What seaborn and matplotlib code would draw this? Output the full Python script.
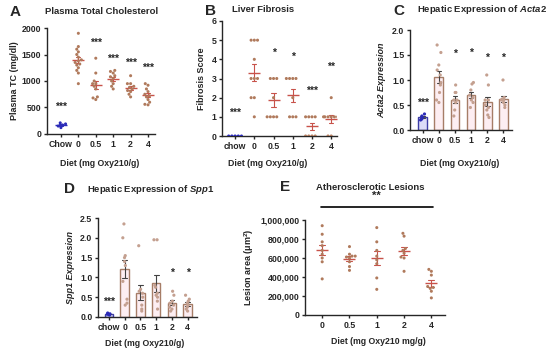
import numpy as np
import pandas as pd
import matplotlib
matplotlib.use('Agg')
import matplotlib.pyplot as plt
import matplotlib.ticker as mticker
import seaborn as sns

# ---- data ----
groups = ['chow', '0', '0.5', '1', '2', '4']
groups_a = ['Chow', '0', '0.5', '1', '2', '4']
groups_e = ['0', '0.5', '1', '2', '4']

tc = {
    'Chow': [120, 150, 170, 190, 210],
    '0': [1900, 1650, 1600, 1550, 1500, 1450, 1400, 1380, 1350, 1320, 1300, 1250, 1200, 1150, 950],
    '0.5': [1430, 1150, 1000, 950, 950, 900, 850, 700, 650, 680],
    '1': [1200, 1180, 1150, 1100, 1080, 1050, 1000, 950, 900, 850],
    '2': [1100, 950, 950, 900, 880, 850, 820, 800, 750, 700],
    '4': [950, 920, 850, 800, 750, 720, 700, 650, 600, 550, 560],
}
fib = {
    'chow': [0, 0, 0, 0, 0],
    '0': [5, 5, 5, 4, 3, 3, 3, 2, 2, 1],
    '0.5': [3, 3, 3, 2, 1, 1, 1, 1],
    '1': [3, 3, 3, 3, 2, 1, 1, 1],
    '2': [1, 1, 1, 1, 0, 0, 0, 0],
    '4': [2, 1, 1, 1, 1, 1, 1, 0, 0],
}
acta2 = {
    'chow': [0.2, 0.22, 0.25, 0.28, 0.32],
    '0': [1.7, 1.55, 1.3, 1.2, 1.1, 0.95, 0.9, 0.75, 0.6, 0.55],
    '0.5': [0.9, 0.75, 0.75, 0.6, 0.6, 0.55, 0.4, 0.28],
    '1': [0.95, 0.92, 0.8, 0.7, 0.65, 0.6, 0.55, 0.45],
    '2': [1.1, 0.9, 0.6, 0.6, 0.5, 0.45, 0.4, 0.3, 0.25],
    '4': [1.0, 0.65, 0.62, 0.6, 0.6, 0.55, 0.5, 0.45],
}
spp1 = {
    'chow': [0.05, 0.06, 0.07, 0.08, 0.1],
    '0': [2.35, 2.0, 1.55, 1.5, 1.4, 1.3, 0.9, 0.45, 0.35, 0.3],
    '0.5': [1.8, 0.7, 0.65, 0.6, 0.5, 0.3, 0.2, 0.15],
    '1': [1.95, 1.95, 0.8, 0.75, 0.6, 0.55, 0.5, 0.4, 0.2],
    '2': [0.65, 0.55, 0.4, 0.35, 0.3, 0.25, 0.2, 0.15],
    '4': [0.55, 0.45, 0.4, 0.35, 0.3, 0.25, 0.2, 0.15],
}
lesion = {
    '0': [940000, 850000, 770000, 730000, 680000, 640000, 600000, 560000, 380000],
    '0.5': [720000, 640000, 620000, 620000, 610000, 600000, 560000, 510000, 470000],
    '1': [920000, 770000, 680000, 620000, 580000, 540000, 390000, 270000],
    '2': [860000, 830000, 700000, 680000, 650000, 610000, 600000, 460000],
    '4': [480000, 460000, 420000, 300000, 290000, 280000, 250000, 180000],
}

stars_a = [('Chow', 510, '***'), ('0.5', 1720, '***'), ('1', 1420, '***'), ('2', 1340, '***'), ('4', 1250, '***')]
stars_b = [('chow', 1.2, '***'), ('0.5', 4.35, '*'), ('1', 4.15, '*'), ('2', 2.35, '***'), ('4', 3.6, '**')]
stars_c = [('chow', 0.55, '***'), ('0.5', 1.52, '*'), ('1', 1.55, '*'), ('2', 1.45, '*'), ('4', 1.45, '*')]
stars_d = [('chow', 0.38, '***'), ('2', 1.12, '*'), ('4', 1.12, '*')]

# ---- style ----
sns.set_style('ticks')
plt.rcParams['font.family'] = ['Liberation Sans', 'DejaVu Sans']
plt.rcParams['font.weight'] = 'bold'
plt.rcParams['mathtext.fontset'] = 'custom'
plt.rcParams['mathtext.rm'] = 'Liberation Sans:bold'
plt.rcParams['mathtext.it'] = 'Liberation Sans:italic:bold'
plt.rcParams['axes.linewidth'] = 1.0

DOT = '#b07a5c'
LINE = '#c8524a'
BLUE = '#2b2bb8'
BARFACE = '#fdeef2'


def long_df(d):
    rows = [(g, v) for g, vals in d.items() for v in vals]
    return pd.DataFrame(rows, columns=['group', 'value'])


def pal(order, c):
    return {g: (BLUE if g.lower() == 'chow' else c) for g in order}


def finish(ax, order, ylim, yticks, xlim):
    ax.set_xlim(*xlim)
    ax.set_ylim(*ylim)
    ax.set_yticks(yticks)
    ax.set_xticks(range(len(order)))
    ax.set_xticklabels(order)
    ax.tick_params(labelsize=6.3, length=2.5, width=1.0, pad=1.5)
    for lab in ax.get_xticklabels() + ax.get_yticklabels():
        lab.set_fontweight('bold')
    sns.despine(ax=ax)
    ax.set_xlabel('')


def scatter_panel(ax, d, order):
    df = long_df(d)
    sns.swarmplot(data=df, x='group', y='value', hue='group', order=order,
                  palette=pal(order, DOT), size=2.2, legend=False, ax=ax)
    sns.pointplot(data=df, x='group', y='value', hue='group', order=order,
                  palette=pal(order, LINE), errorbar='se', capsize=0.22,
                  marker='_', markersize=9, linestyle='none', err_kws={'linewidth': 0.8},
                  markeredgewidth=1.0, legend=False, ax=ax)


def bar_panel(ax, d, order):
    df = long_df(d)
    sns.barplot(data=df, x='group', y='value', hue='group', order=order,
                palette=pal(order, DOT), errorbar='se', capsize=0.3, width=0.55,
                err_kws={'linewidth': 0.8}, legend=False, ax=ax)
    for p in ax.patches:
        ec = p.get_facecolor()
        p.set_edgecolor(ec)
        p.set_linewidth(1.0)
        p.set_facecolor(BARFACE if ec[2] < 0.6 else '#dcdcf8')
    sns.stripplot(data=df, x='group', y='value', hue='group', order=order,
                  palette=pal(order, '#c4a090'), size=2.3, jitter=0.15, legend=False, ax=ax)


def stars(ax, order, items):
    for g, y, s in items:
        ax.text(order.index(g), y, s, ha='center', va='center', fontsize=7.5, fontweight='bold')


W, H = 550, 354
fig = plt.figure(figsize=(5.5, 3.54), dpi=100)


def axes_px(l, t, r, b):
    return fig.add_axes([l / W, 1 - b / H, (r - l) / W, (b - t) / H])


def ftext(x, y, s, **kw):
    fig.text(x / W, 1 - y / H, s, ha='center', va='center', **kw)


# A
axA = axes_px(47, 28, 155, 134)
scatter_panel(axA, tc, groups_a)
finish(axA, groups_a, (0, 2000), [0, 500, 1000, 1500, 2000], (-0.8, 5.4))
stars(axA, groups_a, stars_a)
axA.set_ylabel('Plasma TC (mg/dl)', fontsize=6.5, fontweight='bold', labelpad=2)
ftext(100, 163, 'Diet (mg Oxy210/g)', fontsize=6.3, fontweight='bold')
ftext(102, 12, 'Plasma Total Cholesterol', fontsize=6.8, fontweight='bold')
ftext(15, 12, 'A', fontsize=11, fontweight='bold')

# B
axB = axes_px(222, 21, 337, 136)
scatter_panel(axB, fib, groups)
finish(axB, groups, (0, 6), [0, 1, 2, 3, 4, 5, 6], (-0.68, 5.3))
stars(axB, groups, stars_b)
axB.set_ylabel('Fibrosis Score', fontsize=6.5, fontweight='bold', labelpad=4)
ftext(268, 163, 'Diet (mg Oxy210/g)', fontsize=6.3, fontweight='bold')
ftext(263, 9, 'Liver Fibrosis', fontsize=6.8, fontweight='bold')
ftext(211, 11, 'B', fontsize=11, fontweight='bold')

# C
axC = axes_px(410, 30, 512, 130)
bar_panel(axC, acta2, groups)
finish(axC, groups, (0, 2), [0, 0.5, 1.0, 1.5, 2.0], (-0.8, 5.55))
axC.yaxis.set_major_formatter(mticker.FormatStrFormatter('%.1f'))
stars(axC, groups, stars_c)
axC.set_ylabel('Acta2 Expression', fontsize=6.5, fontweight='bold', fontstyle='italic', labelpad=4)
ftext(460, 164, 'Diet (mg Oxy210/g)', fontsize=6.3, fontweight='bold')
ftext(482, 10, r'Hepatic Expression of $\mathit{Acta2}$', fontsize=6.8, fontweight='bold')
ftext(399, 11, 'C', fontsize=11, fontweight='bold')

# D
axD = axes_px(98, 218, 197, 317)
bar_panel(axD, spp1, groups)
finish(axD, groups, (0, 2.5), [0, 0.5, 1.0, 1.5, 2.0, 2.5], (-0.7, 5.6))
axD.yaxis.set_major_formatter(mticker.FormatStrFormatter('%.1f'))
stars(axD, groups, stars_d)
axD.set_ylabel('Spp1 Expression', fontsize=6.5, fontweight='bold', fontstyle='italic', labelpad=4)
ftext(145, 344, 'Diet (mg Oxy210/g)', fontsize=6.3, fontweight='bold')
ftext(151, 189, r'Hepatic Expression of $\mathit{Spp1}$', fontsize=6.8, fontweight='bold')
ftext(70, 189, 'D', fontsize=11, fontweight='bold')

# E
axE = axes_px(305, 220, 445, 315)
scatter_panel(axE, lesion, groups_e)
finish(axE, groups_e, (0, 1000000), [0, 200000, 400000, 600000, 800000, 1000000], (-0.63, 4.5))
axE.yaxis.set_major_formatter(mticker.FuncFormatter(lambda v, p: f'{int(v):,}'))
axE.plot([-0.05, 4.05], [1135000, 1135000], color='black', lw=1.2, clip_on=False)
axE.text(2, 1250000, '**', ha='center', va='center', fontsize=8, fontweight='bold')
axE.set_ylabel(r'Lesion area (μm$^2$)', fontsize=6.5, fontweight='bold', labelpad=3)
ftext(378, 342, 'Diet (mg Oxy210 mg/g)', fontsize=6.3, fontweight='bold')
ftext(370, 187, 'Atherosclerotic Lesions', fontsize=6.8, fontweight='bold')
ftext(285, 187, 'E', fontsize=11, fontweight='bold')

fig.savefig('out.png', dpi=100)
